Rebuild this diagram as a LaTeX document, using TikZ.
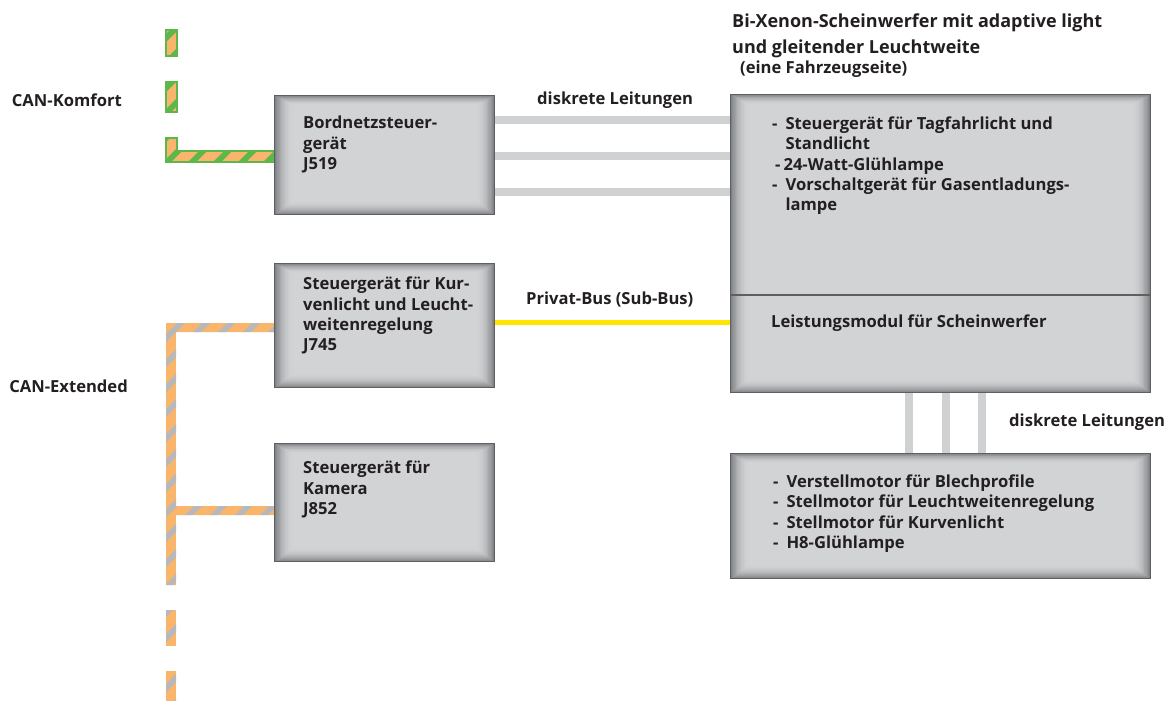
\documentclass[tikz,border=0pt]{standalone}
\usepackage{fontspec}
\setmainfont{Open Sans}
\usetikzlibrary{calc}
\definecolor{ink}{HTML}{231F20}
\definecolor{boxdark}{HTML}{808285}
\definecolor{boxlight}{HTML}{D1D3D5}
\definecolor{boxborder}{HTML}{5E5F61}
\definecolor{wiregray}{HTML}{D0D1D3}
\definecolor{busyellow}{HTML}{FFE500}
\definecolor{greenK}{HTML}{5DB74A}
\definecolor{orangeK}{HTML}{F9B56B}
\definecolor{grayE}{HTML}{B6B8BB}
\newcommand\busfill[3]{%
  \begin{scope}
    \clip #1;
    \fill[#2] #1;
    \foreach \k in {150,175,...,1000}{
      \fill[#3] (\k,0) -- (\k+8,0) -- (\k+8-900,900) -- (\k-900,900) -- cycle;
    }
  \end{scope}}
\begin{document}
\begin{tikzpicture}[x=1pt,y=-1pt,
  lbl/.style={font=\bfseries\fontsize{16.6}{20.3}\selectfont, text=ink, inner sep=0pt, align=left},
  tlbl/.style={font=\bfseries\fontsize{16.6}{20.3}\selectfont, text=ink, inner sep=0pt},
  bevel/.style={path picture={
    \foreach \i in {0,...,14}{
      \pgfmathtruncatemacro\m{100*(1-(1-\i/14)^2)}
      \fill[boxlight!\m!boxdark] ([shift={(\i*1.3pt,-\i*0.7pt)}]path picture bounding box.north west) rectangle ([shift={(-\i*1.3pt,\i*0.95pt)}]path picture bounding box.south east);
    }}},
  box/.style={draw=boxborder, line width=1.3pt, anchor=north west, inner sep=0pt, bevel},
  wire/.style={draw=wiregray, line width=8pt},
  ybus/.style={draw=busyellow, line width=5pt},
  ]
\useasboundingbox (0,0) rectangle (1168,701);

% helper coordinates
\coordinate (w1) at (0,120);
\coordinate (w2) at (0,156);
\coordinate (w3) at (0,192);
\coordinate (yb) at (0,322);
\coordinate (dv) at (0,295);
\coordinate (v1) at (909,0);
\coordinate (v2) at (946,0);
\coordinate (v3) at (982,0);

% CAN-Komfort bus
\busfill{(166,30) rectangle (177,56)}{orangeK}{greenK}
\draw[greenK, line width=1.2pt] (166,30) rectangle (177,56);
\busfill{(166,82) rectangle (177,112)}{orangeK}{greenK}
\draw[greenK, line width=1.2pt] (166,82) rectangle (177,112);
\busfill{(166,138) -- (177,138) -- (177,151) -- (274,151) -- (274,162) -- (166,162) -- cycle}{orangeK}{greenK}
\draw[greenK, line width=1.2pt] (166,138) -- (177,138) -- (177,151) -- (274,151) -- (274,162) -- (166,162) -- cycle;

% CAN-Extended bus
\busfill{(166,323) -- (274,323) -- (274,332) -- (176,332) -- (176,506) -- (274,506) -- (274,515) -- (176,515) -- (176,585) -- (166,585) -- cycle}{orangeK}{grayE}
\busfill{(166,610) rectangle (176,646)}{orangeK}{grayE}
\busfill{(166,671) rectangle (176,701)}{orangeK}{grayE}

% boxes
\node[box, minimum width=220pt, minimum height=119pt] (j519) at (274,95) {};
\node[box, minimum width=220pt, minimum height=124pt] (j745) at (274,263) {};
\node[box, minimum width=220pt, minimum height=118pt] (j852) at (274,443) {};
\node[box, minimum width=420pt, minimum height=298pt] (lamp) at (730,94) {};
\node[box, minimum width=420pt, minimum height=125pt] (motor) at (730,453) {};
\draw[boxborder, line width=1.3pt] (lamp.west |- dv) -- (lamp.east |- dv);

% connectors
\draw[wire] (j519.east |- w1) -- (lamp.west |- w1);
\draw[wire] (j519.east |- w2) -- (lamp.west |- w2);
\draw[wire] (j519.east |- w3) -- (lamp.west |- w3);
\draw[ybus] (j745.east |- yb) -- (lamp.west |- yb);
\draw[wire] (lamp.south -| v1) -- (motor.north -| v1);
\draw[wire] (lamp.south -| v2) -- (motor.north -| v2);
\draw[wire] (lamp.south -| v3) -- (motor.north -| v3);

% labels
\node[lbl, anchor=east] (lkomf) at (122,100) {CAN-Komfort};
\node[lbl, anchor=east] (lext) at (128,386) {CAN-Extended};
\node[lbl, anchor=west] (ldisk1) at (537,100) {diskrete Leitungen};
\node[lbl, anchor=west] (lpriv) at (526,300) {Privat-Bus (Sub-Bus)};
\node[lbl, anchor=west] (ldisk2) at (1009,422) {diskrete Leitungen};
\node[lbl, anchor=north west, font=\bfseries\fontsize{18}{26}\selectfont] (title) at (732,14) {Bi-Xenon-Scheinwerfer mit adaptive light\\und gleitender Leuchtweite};
\node[lbl, anchor=west] (sub) at (740,69) {(eine Fahrzeugseite)};

\node[lbl, anchor=north west] (t519) at (303,116) {Bordnetzsteuer-\\gerät\\J519};
\node[lbl, anchor=north west] (t745) at (303,277) {Steuergerät für Kur-\\venlicht und Leucht-\\weitenregelung\\J745};
\node[lbl, anchor=north west] (t852) at (303,461) {Steuergerät für\\Kamera\\J852};
\node[tlbl, anchor=north west] (tlamp) at (772,115) {\begin{tabular}{@{}l@{\hspace{8pt}}l@{}}-&Steuergerät für Tagfahrlicht und\\&Standlicht\\\multicolumn{2}{@{\hspace{3pt}}l@{}}{-\hspace{3pt}24-Watt-Glühlampe}\\-&Vorschaltgerät für Gasentladungs-\\&lampe\end{tabular}};
\node[lbl, anchor=west] (tlm) at (771,323) {Leistungsmodul für Scheinwerfer};
\node[tlbl, anchor=north west] (tmot) at (773,473) {\begin{tabular}{@{}l@{\hspace{8pt}}l@{}}-&Verstellmotor für Blechprofile\\-&Stellmotor für Leuchtweitenregelung\\-&Stellmotor für Kurvenlicht\\-&H8-Glühlampe\end{tabular}};
\end{tikzpicture}
\end{document}
